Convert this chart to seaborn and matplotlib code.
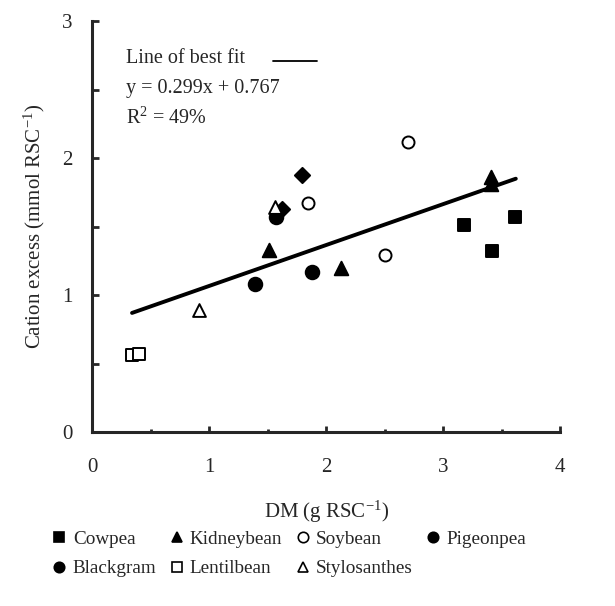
import matplotlib
matplotlib.use('Agg')
import matplotlib.pyplot as plt
from matplotlib.lines import Line2D
import pandas as pd
import seaborn as sns

# values (DM in g RSC-1, cation excess in mmol RSC-1)
cowpea_x = [3.18, 3.42, 3.61]
cowpea_y = [1.51, 1.32, 1.57]
kidneybean_x = [1.51, 2.13, 3.41, 3.41]
kidneybean_y = [1.33, 1.20, 1.86, 1.81]
soybean_x = [2.70, 1.84, 2.50]
soybean_y = [2.12, 1.67, 1.29]
pigeonpea_x = [1.79, 1.62]
pigeonpea_y = [1.88, 1.63]
blackgram_x = [1.39, 1.88, 1.57]
blackgram_y = [1.08, 1.17, 1.57]
lentilbean_x = [0.34, 0.40]
lentilbean_y = [0.56, 0.57]
stylosanthes_x = [0.91, 1.56]
stylosanthes_y = [0.89, 1.64]

fit_x = [0.34, 3.62]
fit_y = [0.87, 1.85]

crops = ['Cowpea', 'Kidneybean', 'Soybean', 'Pigeonpea', 'Blackgram', 'Lentilbean', 'Stylosanthes']
crop_x = [cowpea_x, kidneybean_x, soybean_x, pigeonpea_x, blackgram_x, lentilbean_x, stylosanthes_x]
crop_y = [cowpea_y, kidneybean_y, soybean_y, pigeonpea_y, blackgram_y, lentilbean_y, stylosanthes_y]

# marker, face colour, plot size, legend marker
styles = {
    'Cowpea': ('s', 'black', 85, 's'),
    'Kidneybean': ('^', 'black', 95, '^'),
    'Soybean': ('o', 'white', 75, 'o'),
    'Pigeonpea': ('D', 'black', 60, 'o'),
    'Blackgram': ('o', 'black', 95, 'o'),
    'Lentilbean': ('s', 'white', 80, 's'),
    'Stylosanthes': ('^', 'white', 85, '^'),
}


def main() -> None:
    sns.set_style('ticks')
    plt.rcParams['font.family'] = ['Liberation Serif', 'DejaVu Serif']
    plt.rcParams['mathtext.fontset'] = 'custom'
    plt.rcParams['mathtext.rm'] = 'Liberation Serif'
    plt.rcParams['mathtext.it'] = 'Liberation Serif'

    fig = plt.figure(figsize=(6.15, 6.06), dpi=100)
    ax = fig.add_axes([0.150, 0.287, 0.761, 0.678])

    frames = []
    for crop, xs, ys in zip(crops, crop_x, crop_y):
        frames.append(pd.DataFrame({'dm': xs, 'cation': ys, 'crop': crop}))
    df = pd.concat(frames, ignore_index=True)

    for crop in crops:
        marker, face, size, _ = styles[crop]
        sub = df[df['crop'] == crop]
        sns.scatterplot(data=sub, x='dm', y='cation', marker=marker, color=face,
                        edgecolor='black', linewidth=1.4, s=size, ax=ax, zorder=3, legend=False)

    sns.lineplot(x=fit_x, y=fit_y, color='black', linewidth=2.8, ax=ax, zorder=2)

    ax.set_xlim(0, 4)
    ax.set_ylim(0, 3)
    ax.set_xticks([0, 1, 2, 3, 4])
    ax.set_xticks([0.5, 1.5, 2.5, 3.5], minor=True)
    ax.set_yticks([0, 1, 2, 3])
    ax.set_yticks([0.5, 1.5, 2.5], minor=True)
    ax.tick_params(axis='x', which='major', direction='in', length=4, width=2, pad=19, labelsize=15)
    ax.tick_params(axis='x', which='minor', direction='in', length=2.5, width=2)
    ax.tick_params(axis='y', which='both', direction='in', length=5, width=2, pad=14, labelsize=15)

    for side in ['top', 'right']:
        ax.spines[side].set_visible(False)
    for side in ['left', 'bottom']:
        ax.spines[side].set_linewidth(2.2)

    ax.set_xlabel('DM (g RSC$^{\\mathregular{-1}}$)', fontsize=15, labelpad=15)
    ax.set_ylabel('Cation excess (mmol RSC$^{\\mathregular{-1}}$)', fontsize=15, labelpad=11)

    ax.text(0.073, 0.91, 'Line of best fit', transform=ax.transAxes, fontsize=14.5, va='center')
    ax.plot([0.387, 0.481], [0.903, 0.903], transform=ax.transAxes, color='black', linewidth=1.3)
    ax.text(0.073, 0.837, 'y = 0.299x + 0.767', transform=ax.transAxes, fontsize=14.5, va='center')
    ax.text(0.073, 0.764, 'R$^{\\mathregular{2}}$ = 49%', transform=ax.transAxes, fontsize=14.5, va='center')

    # legend laid out in rows like the reference
    handles = {}
    for crop in crops:
        _, face, _, lmarker = styles[crop]
        handles[crop] = Line2D([], [], linestyle='none', marker=lmarker, markersize=7.5,
                               markerfacecolor=face, markeredgecolor='black', markeredgewidth=1.2,
                               label=crop)
    order = ['Cowpea', 'Blackgram', 'Kidneybean', 'Lentilbean', 'Soybean', 'Stylosanthes', 'Pigeonpea']
    fig.legend(handles=[handles[c] for c in order], loc='upper left', bbox_to_anchor=(0.07, 0.137),
               ncol=4, frameon=False, fontsize=13.8, handletextpad=0.25, columnspacing=0.6,
               handlelength=0.9, labelspacing=0.62, borderaxespad=0)

    fig.savefig('out.png', dpi=100)


if __name__ == '__main__':
    main()
